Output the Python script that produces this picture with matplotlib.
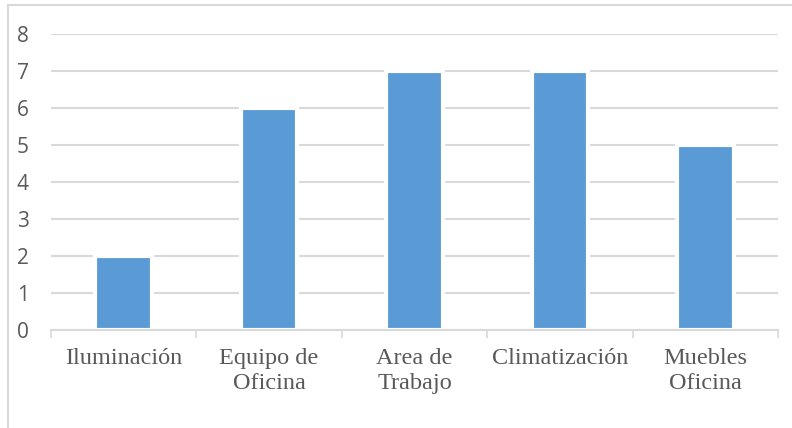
import matplotlib.pyplot as plt
import numpy as np
from matplotlib.lines import Line2D

categorias = ['Iluminación', 'Equipo de\nOficina', 'Area de\nTrabajo', 'Climatización', 'Muebles\nOficina']
valores = [2, 6, 7, 7, 5]
y_ticks = [0, 1, 2, 3, 4, 5, 6, 7, 8]

fig = plt.figure(figsize=(7.92, 4.28), dpi=100)
ax = fig.add_axes([51 / 792, 1 - 330 / 428, (778 - 51) / 792, (330 - 34) / 428])

x = np.arange(len(categorias))
ax.bar(x, valores, width=0.39, color='#5B9BD5', edgecolor='white', linewidth=3, zorder=3)

ax.set_xlim(-0.5, len(categorias) - 0.5)
ax.set_ylim(0, 8)
ax.set_yticks(y_ticks)
ax.set_yticklabels([str(v) for v in y_ticks], family='Open Sans', fontsize=15, color='#595959')
ax.tick_params(axis='y', length=0, pad=16)

ax.set_xticks(x)
ax.set_xticklabels(categorias, family='Liberation Serif', fontsize=17.5, color='#595959', linespacing=1.25)
ax.set_xticks(np.arange(-0.5, len(categorias)), minor=True)
ax.tick_params(axis='x', which='major', length=0, pad=13)
ax.tick_params(axis='x', which='minor', length=6, width=1.2, color='#d9d9d9')

ax.grid(axis='y', color='#d9d9d9', linewidth=1.5, zorder=0)
ax.set_axisbelow(True)
for side in ['left', 'right', 'top']:
    ax.spines[side].set_visible(False)
ax.spines['bottom'].set_color('#d9d9d9')
ax.spines['bottom'].set_linewidth(1.5)
ax.spines['bottom'].set_zorder(4)

# borde del área del gráfico
fig.add_artist(Line2D([8 / 792, 8 / 792], [0, 1 - 5 / 428], color='#d9d9d9', linewidth=1.5))
fig.add_artist(Line2D([8 / 792, 1], [1 - 5 / 428, 1 - 5 / 428], color='#d9d9d9', linewidth=1.5))

fig.savefig('out.png', dpi=100)
